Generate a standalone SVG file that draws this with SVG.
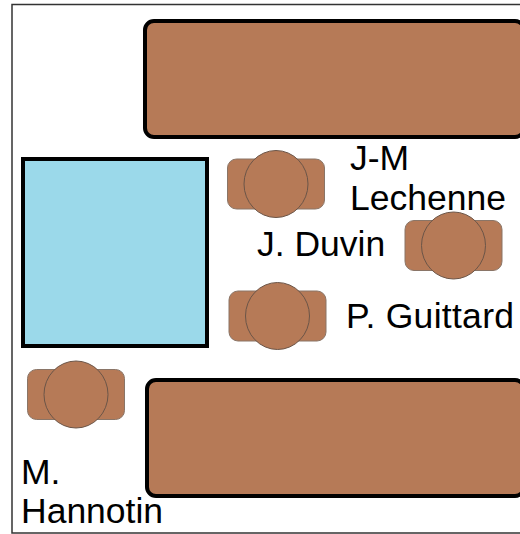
<svg xmlns="http://www.w3.org/2000/svg" width="520" height="534" viewBox="0 0 520 534">
<style>
.t{fill:#b67a57;stroke:#000;stroke-width:4}
.s{fill:#b67a57;stroke:#8a7567;stroke-width:1}
.c{fill:#b67a57;stroke:#6b5548;stroke-width:1}
text{font-family:"Liberation Sans",Arial,sans-serif;font-size:35.5px;fill:#000}
</style>
<defs>
<g id="person"><rect class="s" x="-48.5" y="-25" width="97" height="50" rx="9"/><ellipse class="c" cx="0" cy="0" rx="32" ry="33.5"/></g>
</defs>
<rect x="12" y="4.5" width="520" height="528.5" fill="#fff" stroke="#333" stroke-width="1.5"/>
<g id="table-top"><rect class="t" x="145" y="21" width="379" height="116" rx="9"/></g>
<g id="table-bottom"><rect class="t" x="147" y="380" width="377" height="116" rx="9"/></g>
<g id="pool"><rect x="23" y="159" width="184" height="187" fill="#9bd9ea" stroke="#000" stroke-width="4"/></g>
<g id="seat-lechenne"><use href="#person" x="276" y="184"/></g>
<g id="seat-duvin"><use href="#person" x="453.5" y="245.5"/></g>
<g id="seat-guittard"><use href="#person" x="277.5" y="316"/></g>
<g id="seat-hannotin"><use href="#person" x="76" y="394.5"/></g>
<g id="labels">
<text x="350" y="170">J-M</text>
<text x="350" y="209.5">Lechenne</text>
<text x="257" y="256">J. Duvin</text>
<text x="346" y="327.5" textLength="168">P. Guittard</text>
<text x="21" y="484">M.</text>
<text x="21" y="523">Hannotin</text>
</g>
</svg>
